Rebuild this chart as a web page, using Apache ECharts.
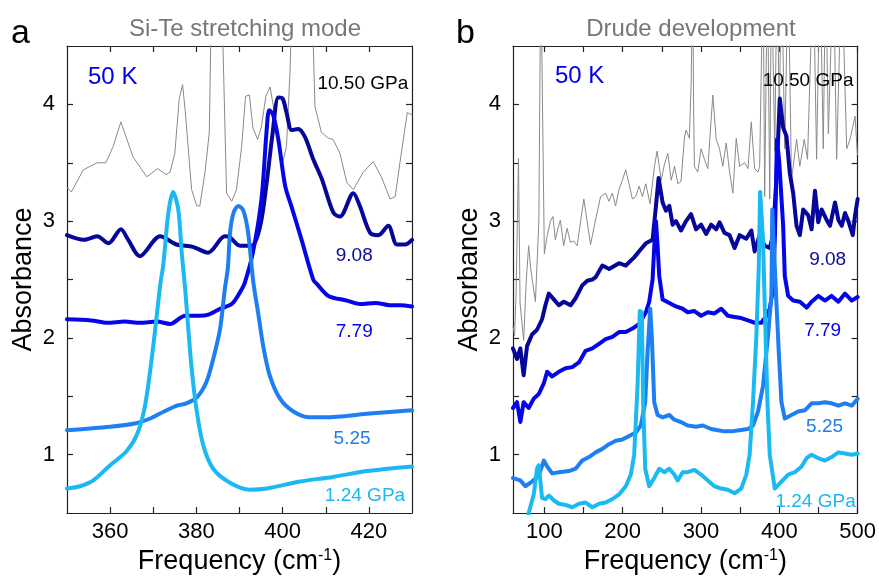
<!DOCTYPE html>
<html>
<head>
<meta charset="utf-8">
<script src="https://cdn.jsdelivr.net/npm/echarts@6/dist/echarts.min.js"></script>
<style>
  html, body { margin: 0; padding: 0; background: #fff; }
  #chart { width: 879px; height: 580px; }
</style>
</head>
<body>
<div id="chart"></div>
<script>
// panel a: Si-Te stretching mode, [frequency cm-1, absorbance]
const aGray1050 = [[350,3.29],[351,3.25],[353.8,3.44],[357,3.5],[359,3.5],[360.7,3.64],[362.5,3.85],[365.3,3.55],[368.5,3.38],[371,3.45],[373,3.4],[373.9,3.42],[375,3.58],[376,4.04],[376.8,4.17],[377.4,3.95],[378.9,3.27],[380.1,3.13],[380.8,3.13],[382,3.42],[383,3.76],[383.6,5.2],[385.7,5.2],[387,3.24],[388.2,3.17],[389.3,3.27],[390.5,3.64],[391.4,4.07],[392.3,4.08],[393.1,3.8],[394.2,3.7],[395.1,3.81],[396.1,4.07],[397.1,4.15],[398,3.95],[399,3.67],[400,3.5],[400.9,3.64],[401.7,4.27],[402.4,5.2],[406.6,5.2],[407.5,3.98],[409,3.76],[410.6,3.71],[411.7,3.7],[413.3,3.58],[414.9,3.33],[416.4,3.27],[418.7,3.42],[421,3.51],[422.9,3.38],[424.9,3.19],[426.1,3.21],[427.2,3.5],[428.9,3.93],[430,3.91]];
const a908 = [[350,2.88],[353.9,2.84],[357,2.87],[359.6,2.81],[362.5,2.93],[364.2,2.84],[366.9,2.70],[371.6,2.87],[375.4,2.80],[379.2,2.78],[382.7,2.73],[386.6,2.87],[387.8,2.86],[390.1,2.79],[392.8,2.79],[394.8,2.96],[396.3,3.33],[397.7,3.76],[399,4.06],[400,4.05],[400.9,3.93],[402.1,3.78],[403.6,3.79],[405.2,3.72],[407.1,3.53],[409.1,3.36],[411.8,3.07],[413.3,3.04],[416.4,3.24],[417.9,3.13],[420.3,2.90],[422.2,2.88],[424.5,2.96],[426.5,2.80],[428.4,2.80],[430,2.84]];
const a779 = [[350,2.16],[355.6,2.15],[359.4,2.13],[363.4,2.14],[366.9,2.13],[370.8,2.14],[373.9,2.12],[377.4,2.19],[380.8,2.19],[382.8,2.20],[385.5,2.25],[388.2,2.29],[390.1,2.39],[391.2,2.47],[393.1,2.73],[395.1,3.19],[396.3,3.78],[396.9,3.95],[397.8,3.91],[399,3.70],[400.6,3.30],[402.1,3.12],[404.4,2.84],[407.1,2.50],[408,2.46],[410.6,2.36],[414.9,2.32],[418,2.29],[421.5,2.30],[424.9,2.28],[427.3,2.28],[430,2.27]];
const a525 = [[350,1.21],[360,1.24],[366,1.27],[369.3,1.31],[372.5,1.37],[375.5,1.42],[377.7,1.44],[380.1,1.49],[382.3,1.62],[383.9,1.82],[385.5,2.08],[386.6,2.42],[387.3,2.6],[387.8,2.9],[388.6,3.07],[389.7,3.13],[390.9,3.09],[392,2.9],[393.2,2.48],[394.3,2.22],[395.5,1.93],[397,1.68],[399.4,1.48],[402.5,1.37],[406.3,1.32],[410.1,1.32],[419.5,1.35],[430,1.38]];
const a124 = [[350,0.71],[353,0.73],[356.1,0.78],[360,0.91],[363.8,1.03],[366.2,1.17],[368.1,1.42],[370,1.93],[371.6,2.45],[372.3,2.62],[373.5,3.07],[374.6,3.25],[375.8,3.10],[376.6,2.73],[377.4,2.42],[377.7,2.28],[378.9,1.74],[380.1,1.37],[381.6,1.08],[383.9,0.88],[387.8,0.76],[392.4,0.70],[396.3,0.71],[404,0.77],[411.7,0.81],[419.5,0.86],[430,0.90]];

// panel b: Drude development
const bGray1050 = [[60,2.1],[62,2.02],[64,2.4],[67,3.54],[69,2.3],[73.6,1.98],[77,2.5],[80,2.79],[82.5,2.6],[88.6,2.31],[93,3.0],[95.5,5.2],[97.5,5.2],[100,2.72],[103.5,2.87],[107.8,3.0],[111,3.04],[114,2.84],[117.5,2.94],[120.5,3.01],[124.7,2.79],[129,2.94],[133.3,2.82],[137.6,2.83],[141.9,2.79],[150.4,3.19],[159,2.80],[165.4,3.01],[171.8,3.21],[178.2,3.24],[182.5,3.17],[186.8,3.24],[191,3.13],[195.3,3.27],[199.6,3.35],[203.9,3.44],[208.1,3.32],[212.4,3.19],[216.7,3.21],[221,3.3],[225.2,3.21],[229.5,3.32],[235,3.15],[240.6,3.47],[244,3.6],[249.2,3.35],[253.4,3.49],[257.7,3.58],[262,3.35],[266.2,3.47],[270.5,3.32],[274.5,3.34],[279,3.72],[281,3.78],[285.2,3.71],[287.5,4.2],[289.5,5.2],[290.5,4.0],[291.6,3.47],[295.9,3.42],[300.1,3.62],[304.4,3.53],[308.7,3.45],[315.1,4.08],[319.4,3.7],[323.6,3.62],[327.9,3.47],[332.2,3.67],[336.5,3.42],[340.7,3.24],[345,3.71],[349.3,3.47],[355.7,3.5],[360,3.45],[364.2,3.85],[368.5,3.45],[372.8,3.42],[374.9,3.47],[379.2,5.2],[381.3,3.21],[384.8,5.2],[387.8,3.19],[389.9,5.2],[394.2,3.6],[397,5.2],[400,3.9],[402.7,5.2],[407,3.62],[411.3,5.2],[415.5,3.35],[422,3.7],[426.2,3.47],[431.8,3.7],[436,3.53],[443.3,5.2],[447.6,3.53],[451.9,5.2],[456.1,3.62],[459.1,5.2],[462.6,3.75],[469,5.2],[473.2,3.53],[479.6,5.2],[486,3.62],[490.3,3.7],[496.7,3.9],[499.7,3.57]];
const b908 = [[60,1.91],[65.1,1.82],[69.4,1.91],[73.6,1.68],[77.9,1.93],[84.3,2.03],[90.7,2.07],[97.1,2.16],[101.4,2.28],[105.7,2.38],[112.1,2.33],[118.5,2.28],[124.9,2.31],[133.5,2.28],[139.9,2.34],[148.4,2.45],[154.8,2.49],[161.3,2.5],[165.5,2.52],[174.1,2.62],[182.6,2.59],[195.4,2.64],[204,2.62],[214.7,2.69],[223.2,2.76],[229.6,2.81],[238.2,2.84],[242.5,3.13],[245.9,3.37],[251,3.16],[255.3,3.09],[259.6,3.13],[263.8,2.97],[268.1,3.0],[274.5,2.92],[280.9,3.0],[287.3,3.06],[293.7,2.93],[300.1,2.97],[306.6,2.89],[313,2.97],[319.4,2.93],[323.7,2.99],[330,2.90],[336.5,2.88],[342.9,2.77],[349.3,2.88],[357.8,2.85],[364.3,2.92],[368.5,2.74],[374.9,2.88],[381.3,2.79],[387.8,2.77],[392,2.88],[396.3,3.36],[400.6,4.05],[404.9,3.8],[409.1,3.73],[413.4,3.41],[417.7,3.24],[422,2.96],[426.2,2.88],[430.5,3.1],[436.9,3.05],[441.2,2.93],[445.5,3.26],[449.7,2.99],[454,3.1],[460.4,3.01],[464.7,2.96],[471.1,3.16],[475.4,3.01],[479.7,2.96],[483.9,3.07],[488.2,3.0],[493.8,2.88],[496.7,3.05],[500,3.19]];
const b779 = [[60,1.40],[65.1,1.45],[69.4,1.28],[73.6,1.45],[80,1.40],[86.5,1.48],[92.9,1.52],[99.3,1.61],[103.6,1.71],[110,1.67],[118.5,1.71],[127,1.74],[135.6,1.75],[144.2,1.79],[152.7,1.89],[161.3,1.91],[169.8,1.95],[178.3,1.99],[186.9,2.01],[195.4,2.05],[204,2.05],[212.5,2.08],[221.1,2.12],[229.6,2.22],[233.9,2.31],[238.2,2.5],[240.5,2.8],[242.5,3.0],[244.5,2.8],[246.7,2.53],[251,2.33],[259.6,2.3],[268.1,2.27],[276.6,2.25],[283,2.22],[291.6,2.23],[300.1,2.19],[308.7,2.22],[317.2,2.21],[325.8,2.25],[334.3,2.19],[342.9,2.18],[351.4,2.17],[360,2.15],[368.5,2.13],[377.1,2.13],[383.5,2.19],[387.8,2.25],[392,2.42],[394.5,2.9],[397,3.7],[400,3.5],[404.9,2.96],[407,2.53],[411.3,2.36],[417.7,2.32],[426.2,2.31],[434.8,2.26],[441.2,2.31],[449.7,2.36],[458.3,2.32],[466.8,2.36],[475.4,2.31],[483.9,2.38],[492.5,2.32],[500,2.35]];
const b525 = [[60,0.80],[69.4,0.78],[75.8,0.73],[84.3,0.77],[92.9,0.82],[99.3,0.95],[103.6,0.9],[110,0.84],[118.5,0.85],[131.3,0.86],[139.9,0.88],[148.4,0.95],[157,0.98],[165.5,1.02],[174.1,1.05],[182.6,1.09],[191.2,1.12],[199.7,1.13],[208.3,1.16],[216.8,1.19],[223.2,1.25],[228.8,1.45],[231.8,1.88],[235.2,2.25],[237.3,2.0],[240.3,1.45],[244.6,1.34],[251,1.32],[259.6,1.34],[266,1.3],[274.5,1.28],[283,1.25],[293.7,1.24],[302.3,1.25],[313,1.22],[321.5,1.21],[330.1,1.2],[338.6,1.2],[349.3,1.21],[360,1.22],[366.4,1.25],[372.8,1.37],[379.2,1.59],[385.6,2.02],[389.9,2.36],[391,3.1],[392.5,3.1],[396.3,2.3],[399.3,1.88],[402.7,1.45],[407,1.31],[415.5,1.34],[424,1.37],[432.6,1.38],[441.2,1.44],[449.7,1.44],[458.3,1.45],[466.8,1.44],[475.4,1.42],[483.9,1.44],[492.5,1.42],[500,1.48]];
const b124 = [[72,0.2],[80,0.5],[86.5,0.66],[90.7,0.88],[92.9,0.91],[95,0.77],[97.1,0.63],[101.4,0.62],[105.7,0.65],[112.1,0.61],[118.5,0.58],[127,0.57],[135.6,0.55],[144.2,0.58],[152.7,0.59],[161.3,0.55],[169.8,0.58],[178.3,0.59],[186.9,0.62],[195.4,0.66],[204,0.73],[210.4,0.83],[214.7,1.0],[219,1.59],[221.9,2.23],[224.5,2.22],[226.2,1.45],[228.8,0.88],[233.9,0.73],[240.3,0.8],[246.7,0.88],[253.1,0.85],[259.6,0.88],[266,0.83],[270.2,0.78],[276.6,0.85],[283,0.85],[291.6,0.87],[300.1,0.83],[308.7,0.78],[317.2,0.73],[325.8,0.71],[334.3,0.70],[342.9,0.67],[351.4,0.71],[357.8,0.83],[362.1,1.0],[366.4,1.45],[370.7,2.02],[373.7,2.59],[375.5,3.25],[377,3.25],[379.2,2.84],[381.3,2.3],[384.8,1.45],[387.8,1.0],[394.2,0.71],[402.7,0.77],[411.3,0.83],[419.8,0.85],[428.4,0.9],[434.8,0.97],[441.2,1.0],[449.7,0.97],[458.3,0.95],[466.8,0.98],[475.4,1.02],[483.9,1.01],[492.5,1.0],[500,1.01]];

// ticks and labels
const aTicksX = [360, 370, 380, 390, 400, 410, 420];
const aLabelsX = [360, 380, 400, 420];
const bTicksX = [100, 150, 200, 250, 300, 350, 400, 450, 500];
const bLabelsX = [100, 200, 300, 400, 500];
const yTicks = [1, 1.5, 2, 2.5, 3, 3.5, 4];
const yLabels = [1, 2, 3, 4];

// curve labels [name, x, y]
const aNotes = [['50 K', 360.6, 4.23], ['10.50 GPa', 418.6, 4.18], ['9.08', 416.6, 2.70], ['7.79', 416.6, 2.05], ['5.25', 416.1, 1.14], ['1.24 GPa', 419.1, 0.65]];
const bNotes = [['50 K', 145, 4.24], ['10.50 GPa', 436.7, 4.2], ['9.08', 461.7, 2.67], ['7.79', 455.3, 2.06], ['5.25', 457.8, 1.24], ['1.24 GPa', 446.3, 0.6]];
const noteColors = ['#0000ee', '#000000', '#0a0a9a', '#0000ee', '#1e7cf0', '#1ab8f0'];

const FONT = 'Liberation Sans, Arial, sans-serif';
const C_GRAY = '#8a8a8a', C_908 = '#06069a', C_779 = '#0505ea', C_525 = '#1f7ef2', C_124 = '#1cb8f2';

const chart = echarts.init(document.getElementById('chart'));

const xAxisPair = (grid, min, max, ticks, labels) => {
  const base = {
    type: 'value', gridIndex: grid, min: min, max: max,
    axisLine: { show: true, onZero: false, lineStyle: { color: '#222', width: 1.2 } },
    axisTick: { show: true, inside: true, length: 6, customValues: ticks, lineStyle: { color: '#222', width: 1.2 } },
    splitLine: { show: false }
  };
  return [
    Object.assign({}, base, {
      position: 'bottom',
      axisLabel: { show: true, customValues: labels, color: '#000', fontSize: 22, fontFamily: FONT, margin: 8 },
      name: 'Frequency (cm{sup|-1})',
      nameLocation: 'middle',
      nameGap: 32,
      nameTextStyle: {
        color: '#000', fontSize: 27, fontFamily: FONT,
        rich: { sup: { fontSize: 16, fontFamily: FONT, color: '#000', verticalAlign: 'top' } }
      }
    }),
    Object.assign({}, base, { position: 'top', axisLabel: { show: false } })
  ];
};

const yAxisPair = (grid) => {
  const base = {
    type: 'value', gridIndex: grid, min: 0.5, max: 4.5,
    axisLine: { show: true, onZero: false, lineStyle: { color: '#222', width: 1.2 } },
    axisTick: { show: true, inside: true, length: 6, customValues: yTicks, lineStyle: { color: '#222', width: 1.2 } },
    splitLine: { show: false }
  };
  return [
    Object.assign({}, base, {
      position: 'left',
      axisLabel: { show: true, customValues: yLabels, color: '#000', fontSize: 22, fontFamily: FONT, margin: 12 },
      name: 'Absorbance',
      nameLocation: 'middle',
      nameGap: 30,
      nameTextStyle: { color: '#000', fontSize: 27, fontFamily: FONT }
    }),
    Object.assign({}, base, { position: 'right', axisLabel: { show: false } })
  ];
};

const line = (data, color, width, xi, yi, smooth) => ({
  type: 'line', data: data, xAxisIndex: xi, yAxisIndex: yi,
  showSymbol: false, symbol: 'none', smooth: smooth, clip: true,
  lineStyle: { color: color, width: width, join: 'round', cap: 'round' },
  silent: true
});

const notes = (list, xi, yi) => ({
  type: 'scatter', xAxisIndex: xi, yAxisIndex: yi, symbolSize: 1, silent: true, z: 10,
  itemStyle: { color: 'rgba(0,0,0,0)' },
  data: list.map((n, i) => ({
    name: n[0], value: [n[1], n[2]],
    label: {
      show: true, position: 'inside', formatter: '{b}', fontFamily: FONT,
      fontSize: i === 0 ? 24 : 19, color: noteColors[i],
      textBorderWidth: 0, textBorderColor: 'transparent', opacity: 1
    }
  }))
});

const option = {
  animation: false,
  backgroundColor: '#fff',
  title: [
    { text: 'Si-Te stretching mode', left: 240, top: 12, textAlign: 'center',
      textStyle: { color: '#777', fontSize: 24, fontWeight: 'normal', fontFamily: FONT } },
    { text: 'Drude development', left: 686, top: 12, textAlign: 'center',
      textStyle: { color: '#777', fontSize: 24, fontWeight: 'normal', fontFamily: FONT } },
    { text: 'a', left: 6, top: 12,
      textStyle: { color: '#000', fontSize: 34, fontWeight: 'normal', fontFamily: FONT } },
    { text: 'b', left: 451, top: 12,
      textStyle: { color: '#000', fontSize: 34, fontWeight: 'normal', fontFamily: FONT } }
  ],
  grid: [
    { left: 67, top: 46, width: 345, height: 469 },
    { left: 513, top: 46, width: 345, height: 469 }
  ],
  xAxis: [].concat(xAxisPair(0, 350, 430, aTicksX, aLabelsX), xAxisPair(1, 60, 500, bTicksX, bLabelsX)),
  yAxis: [].concat(yAxisPair(0), yAxisPair(1)),
  series: [
    line(aGray1050, C_GRAY, 1, 0, 0, false),
    line(a908, C_908, 4, 0, 0, 0.3),
    line(a779, C_779, 4, 0, 0, 0.3),
    line(a525, C_525, 4, 0, 0, 0.3),
    line(a124, C_124, 4, 0, 0, 0.3),
    notes(aNotes, 0, 0),
    line(bGray1050, C_GRAY, 1, 2, 2, false),
    line(b908, C_908, 4, 2, 2, false),
    line(b779, C_779, 4, 2, 2, false),
    line(b525, C_525, 4, 2, 2, false),
    line(b124, C_124, 4, 2, 2, false),
    notes(bNotes, 2, 2)
  ]
};

chart.setOption(option);
</script>
</body>
</html>
